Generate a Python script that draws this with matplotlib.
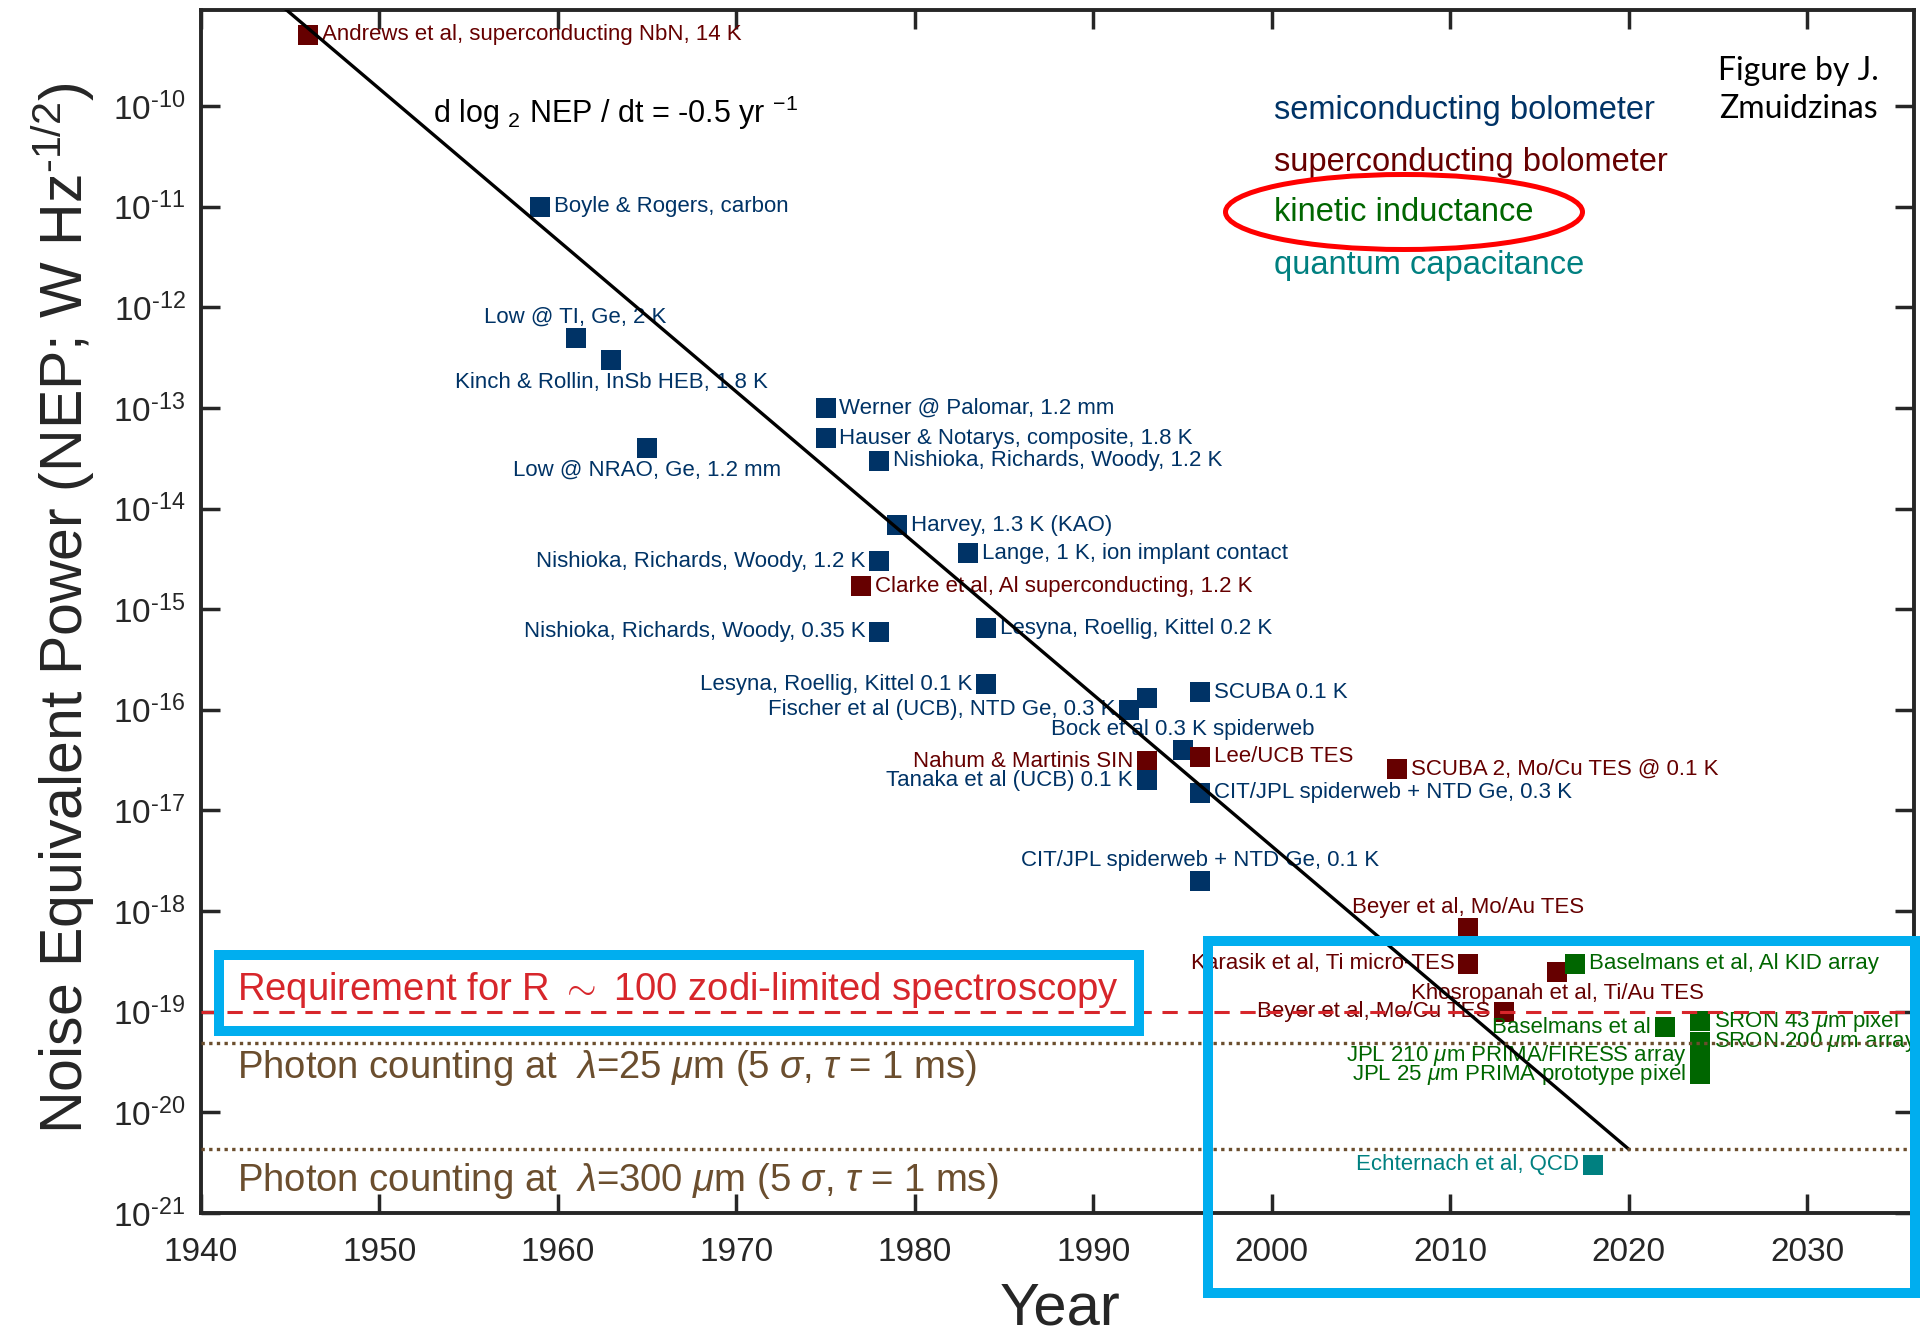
import numpy as np
import matplotlib
matplotlib.use("Agg")
import matplotlib.pyplot as plt
from matplotlib.patches import Rectangle, Ellipse
from matplotlib.ticker import NullLocator, FuncFormatter

plt.rcParams['font.family'] = ['Liberation Sans', 'DejaVu Sans']
plt.rcParams['mathtext.fontset'] = 'custom'
plt.rcParams['mathtext.rm'] = 'Liberation Sans'
plt.rcParams['mathtext.it'] = 'Liberation Sans:italic'
plt.rcParams['mathtext.bf'] = 'Liberation Sans:bold'

# detector data: year, NEP (W/Hz^1/2), type, label
years = [1946, 1959, 1961, 1963, 1965, 1975, 1975, 1978, 1979, 1983,
         1978, 1977, 1978, 1984, 1984, 1992, 1993, 1995, 1993, 1993,
         1996, 1996, 1996, 1996, 2007, 2011, 2011, 2016, 2013, 2017,
         2022, 2024, 2024, 2024, 2024, 2018]
nep = [5.1e-10, 1.0e-11, 5.0e-13, 3.0e-13, 4.0e-14, 1.0e-13, 5.0e-14, 3.0e-14, 6.8e-15, 3.6e-15,
       3.0e-15, 1.7e-15, 6.0e-16, 6.5e-16, 1.8e-16, 1.0e-16, 1.3e-16, 4.0e-17, 3.1e-17, 2.0e-17,
       3.4e-17, 1.5e-16, 1.5e-17, 2.0e-18, 2.6e-17, 6.8e-19, 3.0e-19, 2.5e-19, 1.0e-19, 3.0e-19,
       7.0e-20, 8.0e-20, 5.0e-20, 3.7e-20, 2.4e-20, 3.0e-21]
kind = ['sc', 'semi', 'semi', 'semi', 'semi', 'semi', 'semi', 'semi', 'semi', 'semi',
        'semi', 'sc', 'semi', 'semi', 'semi', 'semi', 'semi', 'semi', 'sc', 'semi',
        'sc', 'semi', 'semi', 'semi', 'sc', 'sc', 'sc', 'sc', 'sc', 'kid',
        'kid', 'kid', 'kid', 'kid', 'kid', 'qc']
labels = ["Andrews et al, superconducting NbN, 14 K",
          "Boyle & Rogers, carbon",
          "Low @ TI, Ge, 2 K",
          "Kinch & Rollin, InSb HEB, 1.8 K",
          "Low @ NRAO, Ge, 1.2 mm",
          "Werner @ Palomar, 1.2 mm",
          "Hauser & Notarys, composite, 1.8 K",
          "Nishioka, Richards, Woody, 1.2 K",
          "Harvey, 1.3 K (KAO)",
          "Lange, 1 K, ion implant contact",
          "Nishioka, Richards, Woody, 1.2 K",
          "Clarke et al, Al superconducting, 1.2 K",
          "Nishioka, Richards, Woody, 0.35 K",
          "Lesyna, Roellig, Kittel 0.2 K",
          "Lesyna, Roellig, Kittel 0.1 K",
          "Fischer et al (UCB), NTD Ge, 0.3 K",
          "",
          "Bock et al 0.3 K spiderweb",
          "Nahum & Martinis SIN",
          "Tanaka et al (UCB) 0.1 K",
          "Lee/UCB TES",
          "SCUBA 0.1 K",
          "CIT/JPL spiderweb + NTD Ge, 0.3 K",
          "CIT/JPL spiderweb + NTD Ge, 0.1 K",
          "SCUBA 2, Mo/Cu TES @ 0.1 K",
          "Beyer et al, Mo/Au TES",
          "Karasik et al, Ti micro-TES",
          "Khosropanah et al, Ti/Au TES",
          "Beyer et al, Mo/Cu TES",
          "Baselmans et al, Al KID array",
          "Baselmans et al",
          r"SRON 43 $\mu$m pixel",
          r"SRON 200 $\mu$m array",
          r"JPL 210 $\mu$m PRIMA/FIRESS array",
          r"JPL 25 $\mu$m PRIMA prototype pixel",
          "Echternach et al, QCD"]

# trend line end points (slope -0.5 in log2 per year)
trend_years = [1944.5, 2020]
trend_nep = [1.0e-9, 4.3e-21]

requirement_nep = 1e-19
photon25_nep = 4.9e-20
photon300_nep = 4.3e-21

legend_names = ['semiconducting bolometer', 'superconducting bolometer',
                'kinetic inductance', 'quantum capacitance']
legend_kinds = ['semi', 'sc', 'kid', 'qc']

# ---- style ----
colors = {'semi': '#003366', 'sc': '#660000', 'kid': '#006600', 'qc': '#008080'}
# label placement: r = right, l = left, a = above, b = below, n = none
place = ['r', 'r', 'a', 'b', 'b', 'r', 'r', 'r', 'r', 'r',
         'l', 'r', 'l', 'r', 'l', 'l', 'n', 'a', 'l', 'l',
         'r', 'r', 'r', 'a', 'r', 'a', 'l', 'b', 'l', 'r',
         'l', 'r', 'r', 'l', 'l', 'l']
axcol = '#262626'
brown = '#6B4E2E'
req_red = '#D7262B'
cyan = '#00AEEF'

W, H = 1920, 1333
fig = plt.figure(figsize=(W / 100, H / 100), dpi=100)
ax = fig.add_axes([200.8 / W, 1 - 1213 / H, (1914.4 - 200.8) / W, (1213 - 10) / H])
ax.set_yscale('log')
ax.set_xlim(1940, 2036)
ax.set_ylim(1e-21, 9e-10)

# trend and reference lines
ax.plot(trend_years, trend_nep, color='black', lw=2.4, zorder=4)
ax.axhline(requirement_nep, color=req_red, lw=2.2, dashes=(5, 3.5), zorder=4)
ax.axhline(photon25_nep, color=brown, lw=2.4, dashes=(1, 1.3), zorder=4)
ax.axhline(photon300_nep, color=brown, lw=2.4, dashes=(1, 1.3), zorder=4)

# points
for x, y, k, lab, p in zip(years, nep, kind, labels, place):
    c = colors[k]
    ax.plot(x, y, 's', color=c, markersize=13.7, mew=0, zorder=3)
    if p == 'n':
        continue
    if p == 'r':
        off, ha, va = (10, 0), 'left', 'center'
    elif p == 'l':
        off, ha, va = (-10, 0), 'right', 'center'
    elif p == 'a':
        off, ha, va = (0, 14.5), 'center', 'center'
    else:
        off, ha, va = (0, -16), 'center', 'center'
    ax.annotate(lab, (x, y), xytext=off, textcoords='offset points',
                ha=ha, va=va, color=c, fontsize=16, zorder=3)

# annotations in the plot
ax.text(1953, 10 ** -10.17, r'd log ${}_{2}$ NEP / dt = -0.5 yr ${}^{-1}$',
        fontsize=22, color='black', va='baseline')
ax.text(1942, 10 ** -18.78, r'Requirement for R $\sim$ 100 zodi-limited spectroscopy',
        fontsize=27.5, color=req_red, va='center')
ax.text(1942, 10 ** -19.56, r'Photon counting at  $\lambda$=25 $\mu$m (5 $\sigma$, $\tau$ = 1 ms)',
        fontsize=27.5, color=brown, va='center')
ax.text(1942, 10 ** -20.68, r'Photon counting at  $\lambda$=300 $\mu$m (5 $\sigma$, $\tau$ = 1 ms)',
        fontsize=27.5, color=brown, va='center')

leg_y = [10 ** -10.04, 10 ** -10.56, 10 ** -11.06, 10 ** -11.58]
for name, k, yy in zip(legend_names, legend_kinds, leg_y):
    ax.text(2000.1, yy, name, color=colors[k], fontsize=23.5, va='center')

# axes styling
ax.set_xticks(np.arange(1940, 2031, 10))
ax.set_yticks([10.0 ** e for e in range(-21, -9)])
ax.yaxis.set_major_formatter(FuncFormatter(
    lambda v, pos: r'$10^{\text{-}%d}$' % round(-np.log10(v))))
ax.yaxis.set_minor_locator(NullLocator())
ax.tick_params(axis='both', which='major', direction='in', length=13.5, width=2.5,
               top=True, right=True, labelsize=24, colors=axcol)
ax.tick_params(axis='x', pad=17)
ax.tick_params(axis='y', pad=11)
for s in ax.spines.values():
    s.set_linewidth(2.8)
    s.set_color(axcol)

fig.text(63 / W, 1 - 608 / H, r'Noise Equivalent Power (NEP; W Hz$^{\text{-}1/2}$)',
         rotation=90, ha='center', va='center', fontsize=42.5, color=axcol)
fig.text(1060 / W, 1 - 1309 / H, 'Year', ha='center', va='center', fontsize=43, color=axcol)
fig.text(1798 / W, 1 - 90 / H, 'Figure by J.\nZmuidzinas', ha='center', va='center',
         fontsize=23, family=['Lato', 'DejaVu Sans'], linespacing=1.35, color='black')

# highlight shapes
fig.patches.append(Ellipse((1404 / W, 1 - 212 / H), 357 / W, 75 / H, fill=False,
                           edgecolor='#FF0000', lw=3.6, transform=fig.transFigure))
fig.patches.append(Rectangle((219 / W, 1 - 1031 / H), (1139 - 219) / W, (1031 - 955) / H,
                             fill=False, edgecolor=cyan, lw=7.2, transform=fig.transFigure))
fig.patches.append(Rectangle((1208 / W, 1 - 1293 / H), (1915 - 1208) / W, (1293 - 941) / H,
                             fill=False, edgecolor=cyan, lw=7.2, transform=fig.transFigure))

fig.savefig('out.png', dpi=100)
